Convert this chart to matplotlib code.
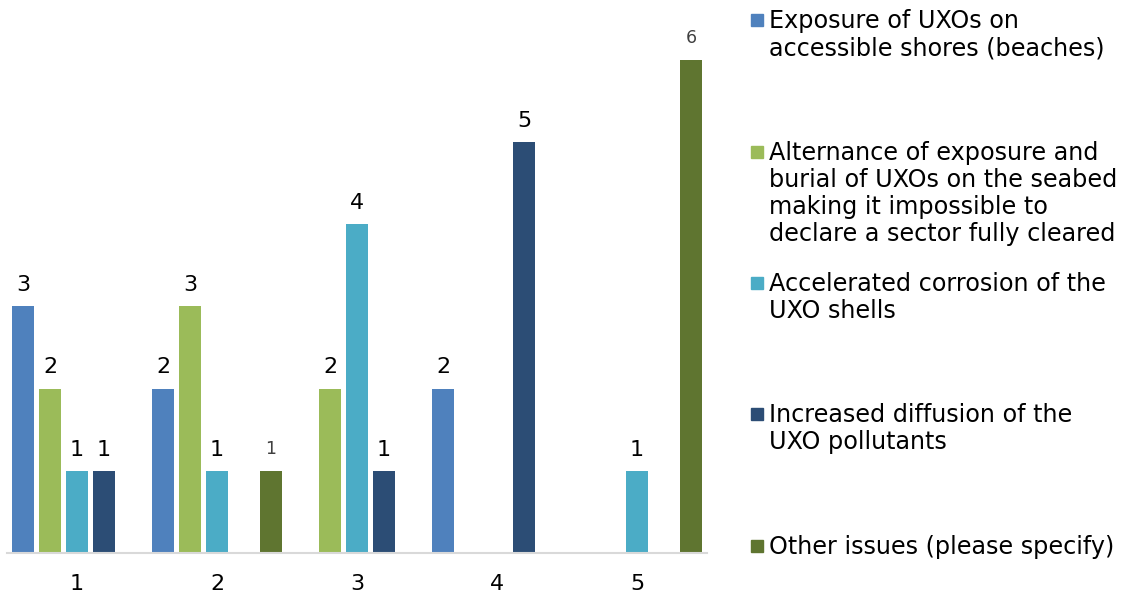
import matplotlib
matplotlib.use("Agg")
import matplotlib.pyplot as plt
from matplotlib.patches import Rectangle
import numpy as np

categories = ["1", "2", "3", "4", "5"]
series_names = [
    "Exposure of UXOs on\naccessible shores (beaches)",
    "Alternance of exposure and\nburial of UXOs on the seabed\nmaking it impossible to\ndeclare a sector fully cleared",
    "Accelerated corrosion of the\nUXO shells",
    "Increased diffusion of the\nUXO pollutants",
    "Other issues (please specify)",
]
exposure = [3, 2, 0, 2, 0]
alternance = [2, 3, 2, 0, 0]
corrosion = [1, 1, 4, 0, 1]
diffusion = [1, 0, 1, 5, 0]
other = [0, 1, 0, 0, 6]
series_values = [exposure, alternance, corrosion, diffusion, other]
colors = ["#4F81BD", "#9BBB59", "#4BACC6", "#2C4D75", "#5F7530"]

W, H = 1129, 599
fig = plt.figure(figsize=(W / 100, H / 100), dpi=100)
ax = fig.add_axes([7 / W, 46 / H, 700 / W, 551 / H])

x = np.arange(len(categories))
slot = 27 / 140
width = 22 / 140
for j, (vals, col) in enumerate(zip(series_values, colors)):
    xs = x + (j - 2) * slot
    ax.bar(xs, vals, width=width, color=col, zorder=2)
    for xi, v in zip(xs, vals):
        if v == 0:
            continue
        if j == 4:
            ax.annotate(str(v), (xi, v), xytext=(0, 9), textcoords="offset points",
                        ha="center", va="bottom", fontsize=12.5, color="#404040")
        else:
            ax.annotate(str(v), (xi, v), xytext=(0, 8), textcoords="offset points",
                        ha="center", va="bottom", fontsize=16, color="#000000")

ax.set_xlim(-0.5, 4.5)
ax.set_ylim(0, 6.7)
ax.set_xticks(x)
ax.set_xticklabels(categories, fontsize=16)
ax.tick_params(axis="x", length=0, pad=15)
ax.set_yticks([])
for s in ["top", "right", "left"]:
    ax.spines[s].set_visible(False)
ax.spines["bottom"].set_color("#D9D9D9")
ax.spines["bottom"].set_linewidth(1.5)

# legend
marker_y = [20, 152, 283, 414, 546]
for name, col, my in zip(series_names, colors, marker_y):
    fig.patches.append(Rectangle((751 / W, (H - my - 6) / H), 12 / W, 12 / H,
                                 transform=fig.transFigure, color=col))
    fig.text(769 / W, (H - my + 11) / H, name, ha="left", va="top",
             fontsize=17.2, color="#000000", linespacing=1.16)

fig.savefig("out.png", dpi=100)
